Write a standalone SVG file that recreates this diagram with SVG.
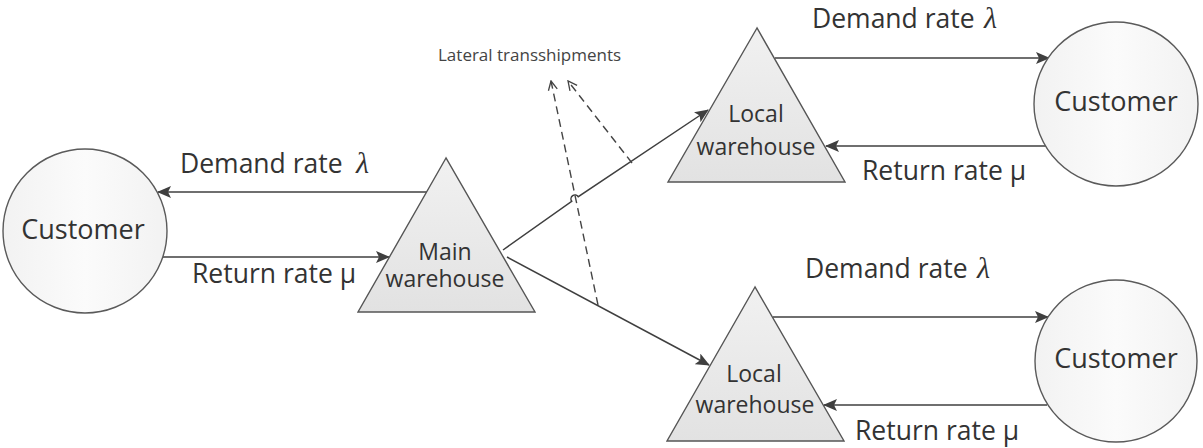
<svg xmlns="http://www.w3.org/2000/svg" width="1203" height="448" viewBox="0 0 1203 448">
  <style>
    .tri { fill: url(#triFill); stroke: #555; stroke-width: 1.4; }
    .cust { fill: url(#circFill); stroke: #5a5a5a; stroke-width: 1.4; }
    .lbl { font-family: "Open Sans", "Noto Sans", sans-serif; font-size: 26.5px; fill: #333; }
    .node { font-family: "Open Sans", "Noto Sans", sans-serif; font-size: 23px; fill: #333; text-anchor: middle; }
    .cname { font-family: "Open Sans", "Noto Sans", sans-serif; font-size: 27px; fill: #333; text-anchor: middle; }
    .greek { font-family: "Liberation Serif", "DejaVu Serif", serif; font-style: italic; font-size: 30px; fill: #333; }
    .small { font-family: "Open Sans", "Noto Sans", sans-serif; font-size: 17px; fill: #444; }
    .flow { fill: none; stroke: #3f3f3f; stroke-width: 1.5; marker-end: url(#arrow); }
    .dash { fill: none; stroke: #444; stroke-width: 1.4; stroke-dasharray: 8 5; marker-end: url(#openArrow); }
  </style>
  <defs>
    <linearGradient id="triFill" x1="0" y1="0" x2="0" y2="1">
      <stop offset="0" stop-color="#f1f1f1"/>
      <stop offset="1" stop-color="#e2e2e2"/>
    </linearGradient>
    <linearGradient id="circFill" x1="0" y1="0" x2="1" y2="0">
      <stop offset="0" stop-color="#f2f2f2"/>
      <stop offset="0.5" stop-color="#fbfbfb"/>
      <stop offset="1" stop-color="#f2f2f2"/>
    </linearGradient>
    <marker id="arrow" markerUnits="userSpaceOnUse" markerWidth="14" markerHeight="12" viewBox="0 0 14 12" refX="13" refY="6" orient="auto">
      <path d="M0,0 L14,6 L0,12 L3,6 Z" fill="#3f3f3f"/>
    </marker>
    <marker id="openArrow" markerUnits="userSpaceOnUse" markerWidth="12" markerHeight="12" viewBox="0 0 12 12" refX="11" refY="6" orient="auto">
      <path d="M2,1.5 L11,6 L2,10.5" fill="none" stroke="#444" stroke-width="1.3"/>
    </marker>
  </defs>

  <!-- connectors -->
  <g id="connectors">
    <line class="flow" x1="427" y1="192" x2="158" y2="192"/>
    <line class="flow" x1="163" y1="257" x2="389" y2="257"/>
    <!-- main to upper local, hopping over the dashed line -->
    <path class="flow" d="M503,250 L571.7,201.3 A4,4 0 0 1 578.3,196.7 L708,110"/>
    <line class="flow" x1="507" y1="257" x2="709" y2="365"/>
    <line class="flow" x1="775" y1="58" x2="1049" y2="58"/>
    <line class="flow" x1="1047" y1="146" x2="826" y2="146"/>
    <line class="flow" x1="773" y1="317" x2="1048" y2="317"/>
    <line class="flow" x1="1047" y1="405" x2="824" y2="405"/>
    <!-- lateral transshipment links -->
    <line class="dash" x1="598" y1="305" x2="551" y2="81"/>
    <line class="dash" x1="632" y1="163" x2="568" y2="81"/>
  </g>

  <g id="customer-left">
    <circle class="cust" cx="85" cy="231" r="82"/>
    <text class="cname" x="83" y="239">Customer</text>
  </g>

  <g id="main-warehouse">
    <polygon class="tri" points="446,158 358,312 535,312"/>
    <text class="node"><tspan x="445" y="260">Main</tspan><tspan x="445" y="287">warehouse</tspan></text>
  </g>

  <g id="local-warehouse-upper">
    <polygon class="tri" points="757,28 668,182 845,182"/>
    <text class="node" font-size="24"><tspan x="756" y="122">Local</tspan><tspan x="756" y="155">warehouse</tspan></text>
  </g>

  <g id="local-warehouse-lower">
    <polygon class="tri" points="755,287 667,441 844,441"/>
    <text class="node" font-size="24"><tspan x="754" y="382">Local</tspan><tspan x="755" y="413">warehouse</tspan></text>
  </g>

  <g id="customer-upper">
    <circle class="cust" cx="1116" cy="104" r="82"/>
    <text class="cname" x="1116" y="111">Customer</text>
  </g>

  <g id="customer-lower">
    <circle class="cust" cx="1116" cy="361" r="81"/>
    <text class="cname" x="1116" y="368">Customer</text>
  </g>

  <!-- flow labels -->
  <g id="labels">
    <text class="lbl" x="180" y="173">Demand rate</text>
    <text class="greek" x="356" y="173">λ</text>
    <text class="lbl" x="192" y="283">Return rate μ</text>

    <text class="lbl" x="812" y="28">Demand rate</text>
    <text class="greek" x="984" y="28">λ</text>
    <text class="lbl" x="862" y="180">Return rate μ</text>

    <text class="lbl" x="805" y="278">Demand rate</text>
    <text class="greek" x="977" y="278">λ</text>
    <text class="lbl" x="855" y="440">Return rate μ</text>

    <text class="small" x="438" y="61">Lateral transshipments</text>
  </g>
</svg>
